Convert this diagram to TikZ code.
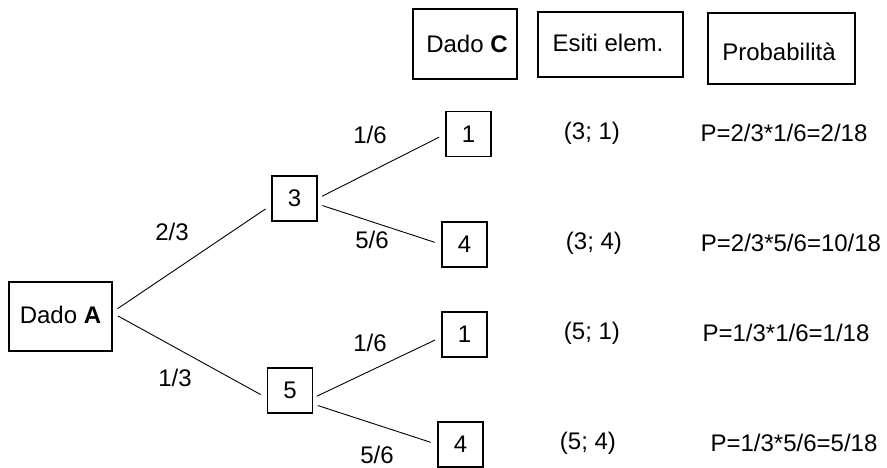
\documentclass[tikz,border=0pt]{standalone}
\usepackage{fontspec}
\setmainfont{Liberation Sans}
\begin{document}
\begin{tikzpicture}[x=1pt,y=-1pt,
  every node/.style={font=\fontsize{24}{28}\selectfont, inner sep=0pt},
  sq/.style={draw, line width=1.2pt, minimum width=45pt, minimum height=45pt},
  branch/.style={line width=0.9pt, shorten <=6pt, shorten >=7pt},
  lab/.style={fill=white, inner sep=1pt}]
\useasboundingbox (0,0) rectangle (887,468);
% header boxes
\node[draw, line width=1.2pt, minimum width=104pt, minimum height=70pt] (hC) at (465,44) {};
\node (hCt) at (467,44) {Dado \textbf{C}};
\node[draw, line width=1.2pt, minimum width=145pt, minimum height=65pt] (hE) at (610.5,44.5) {};
\node (hEt) at (608,43) {Esiti elem.};
\node[draw, line width=1.2pt, minimum width=147pt, minimum height=71pt] (hP) at (781.5,48.5) {};
\node (hPt) at (779,52) {Probabilità};
% tree nodes
\node[draw, line width=1.2pt, minimum width=103pt, minimum height=69pt] (A) at (60.5,316.5) {};
\node (At) at (60.5,315) {Dado \textbf{A}};
\node[sq] (n3) at (294.5,198.5) {3};
\node[sq] (n5) at (290,390.5) {5};
\node[sq] (a1) at (468.5,134) {1};
\node[sq] (a4) at (464.5,244.5) {4};
\node[sq] (b1) at (464.5,334.5) {1};
\node[sq] (b4) at (460.5,444.5) {4};
% branches
\draw[branch] ([yshift=4.5pt]A.east) -- ([yshift=-6.5pt]n3.west);
\draw[branch] ([yshift=3.5pt]A.east) -- ([yshift=-7.5pt]n5.west);
\draw[branch, shorten <=5pt] (n3.east) -- (a1.west);
\draw[branch, shorten <=5pt] ([yshift=-5.5pt]n3.east) -- (a4.west);
\draw[branch, shorten <=4pt] ([yshift=-7.5pt]n5.east) -- ([yshift=-2.5pt]b1.west);
\draw[branch, shorten <=5pt] ([yshift=-13.5pt]n5.east) -- (b4.west);
% labels
\node[lab] (l23) at (172,232) {2/3};
\node[lab] (l13) at (175,378) {1/3};
\node[lab] (la16) at (370,135) {1/6};
\node[lab] (la56) at (372,240) {5/6};
\node[lab] (lb16) at (370,343) {1/6};
\node (lb56) at (377,455) {5/6};
% outcomes
\node (e1) at (592,133) {(3; 1)};
\node (e2) at (594,243) {(3; 4)};
\node (e3) at (592,333) {(5; 1)};
\node (e4) at (588,443) {(5; 4)};
\node (p1) at (784,133) {P=2/3*1/6=2/18};
\node (p2) at (791,243) {P=2/3*5/6=10/18};
\node (p3) at (786,333) {P=1/3*1/6=1/18};
\node (p4) at (794,443) {P=1/3*5/6=5/18};
\end{tikzpicture}
\end{document}
